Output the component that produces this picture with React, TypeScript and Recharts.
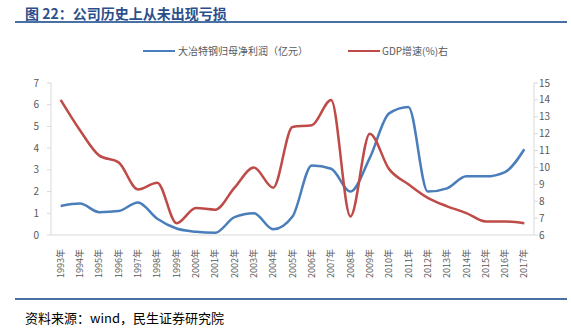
import React from "react";
import { LineChart, Line, XAxis, YAxis } from "recharts";

const years = ["1993年","1994年","1995年","1996年","1997年","1998年","1999年","2000年","2001年","2002年","2003年","2004年","2005年","2006年","2007年","2008年","2009年","2010年","2011年","2012年","2013年","2014年","2015年","2016年","2017年"];
const profit = [1.34,1.45,1.05,1.1,1.5,0.75,0.3,0.15,0.1,0.82,1.0,0.26,0.85,3.2,3.05,2.0,3.55,5.6,5.9,2.0,2.15,2.7,2.7,2.9,3.95];
const gdp = [14.0,12.2,10.7,10.3,8.7,9.1,6.7,7.6,7.5,8.8,10.0,8.8,12.4,12.5,14.0,7.1,12.0,9.9,9.0,8.2,7.7,7.3,6.8,6.8,6.7];
const leftTicks = [0,1,2,3,4,5,6,7];
const rightTicks = [6,7,8,9,10,11,12,13,14,15];
const profitName = "大冶特钢归母净利润（亿元）";
const gdpName = "GDP增速(%)右";

const data = years.map((y, i) => ({ year: y, profit: profit[i], gdp: gdp[i] }));

const BLUE = "#4A7EBB";
const RED = "#BE4B48";
const GREY = "#595959";
const FONT = "'Noto Sans CJK SC', 'Noto Sans', sans-serif";

const XTick = (props: any) => {
  const { x, y, payload } = props;
  return (
    <g transform={`translate(${x},${y})`}>
      <text transform="rotate(-90)" x={-6} y={0} dy="0.35em" textAnchor="end" fontSize={9} fill={GREY} fontFamily={FONT}>
        {payload.value}
      </text>
    </g>
  );
};

export default function App() {
  return (
    <div style={{ position: "absolute", left: 0, top: 0, width: 571, height: 331, background: "#fff", fontFamily: FONT }}>
      <div style={{ position: "absolute", left: 25, top: 4, fontSize: 14, fontWeight: "bold", color: "#2B4F8C", whiteSpace: "nowrap", lineHeight: "18px" }}>
        图 22：公司历史上从未出现亏损
      </div>
      <div style={{ position: "absolute", left: 15, top: 21, width: 552, height: 2, background: "#4A6FA5" }} />
      <div style={{ position: "absolute", left: 0, top: 43, width: 571, height: 16, fontSize: 10, color: GREY }}>
        <div style={{ position: "absolute", left: 143, top: 7, width: 32, height: 2, background: BLUE }} />
        <div style={{ position: "absolute", left: 178, top: 0, whiteSpace: "nowrap", lineHeight: "16px" }}>{profitName}</div>
        <div style={{ position: "absolute", left: 348, top: 7, width: 32, height: 2, background: RED }} />
        <div style={{ position: "absolute", left: 382, top: 0, whiteSpace: "nowrap", lineHeight: "16px" }}>{gdpName}</div>
      </div>
      <div style={{ position: "absolute", left: 0, top: 0 }}>
        <LineChart width={571} height={331} data={data} margin={{ top: 83, right: 0, bottom: 36, left: 0 }}>
          <XAxis dataKey="year" interval={0} height={60} padding={{ left: 9.66, right: 9.66 }} tickLine={false} axisLine={{ stroke: "#D9D9D9" }} tick={<XTick />} />
          <YAxis yAxisId="left" width={51} domain={[0, 7]} ticks={leftTicks} interval={0} tickSize={4} tickMargin={8} axisLine={{ stroke: "#D9D9D9" }} tickLine={{ stroke: "#D9D9D9" }} tick={{ fontSize: 10, fill: GREY, fontFamily: FONT }} />
          <YAxis yAxisId="right" orientation="right" width={37} domain={[6, 15]} ticks={rightTicks} interval={0} tickSize={4} tickMargin={1} axisLine={{ stroke: "#D9D9D9" }} tickLine={{ stroke: "#D9D9D9" }} tick={{ fontSize: 10, fill: GREY, fontFamily: FONT, textAnchor: "start" }} />
          <Line yAxisId="left" type="monotone" dataKey="profit" name={profitName} stroke={BLUE} strokeWidth={2.5} dot={false} isAnimationActive={false} />
          <Line yAxisId="right" type="monotone" dataKey="gdp" name={gdpName} stroke={RED} strokeWidth={2.5} dot={false} isAnimationActive={false} />
        </LineChart>
      </div>
      <div style={{ position: "absolute", left: 15, top: 298, width: 552, height: 2, background: "#4A6FA5" }} />
      <div style={{ position: "absolute", left: 25, top: 309, fontSize: 13, color: "#000", whiteSpace: "nowrap", lineHeight: "18px" }}>
        资料来源：wind，民生证券研究院
      </div>
    </div>
  );
}
